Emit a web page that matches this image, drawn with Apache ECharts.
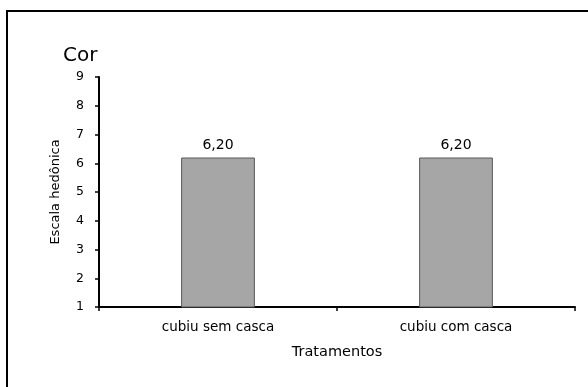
<!DOCTYPE html>
<html>
<head>
<meta charset="utf-8">
<script src="https://cdn.jsdelivr.net/npm/echarts@6/dist/echarts.min.js"></script>
<style>
  html, body { margin: 0; padding: 0; background: #fff; }
  #chart { width: 588px; height: 387px; }
</style>
</head>
<body>
<div id="chart"></div>
<script>
// Hedonic scale scores for colour, per treatment
const categories = ['cubiu sem casca', 'cubiu com casca'];
const scores = [6.20, 6.20];
const yTicks = [1, 2, 3, 4, 5, 6, 7, 8, 9];

const FONT = '"DejaVu Sans", "Noto Sans", sans-serif';
const chart = echarts.init(document.getElementById('chart'));

chart.setOption({
  animation: false,
  backgroundColor: '#ffffff',
  title: {
    text: 'Cor',
    left: 63,
    top: 46,
    padding: 0,
    textStyle: { fontFamily: FONT, fontSize: 20, fontWeight: 'normal', color: '#000' }
  },
  graphic: [{
    type: 'rect',
    shape: { x: 7, y: 11, width: 700, height: 500 },
    style: { fill: 'none', stroke: '#000', lineWidth: 2 },
    silent: true
  }],
  grid: { left: 99, right: 13, top: 77, bottom: 80 },
  xAxis: {
    type: 'category',
    data: categories,
    boundaryGap: true,
    name: 'Tratamentos',
    nameLocation: 'middle',
    nameGap: 38,
    nameTextStyle: { fontFamily: FONT, fontSize: 14.5, color: '#000' },
    axisLine: { lineStyle: { color: '#000', width: 2 } },
    axisTick: { show: true, length: 4, lineStyle: { color: '#000', width: 1.5 } },
    axisLabel: { fontFamily: FONT, fontSize: 13.5, color: '#000', margin: 13 },
    splitLine: { show: false }
  },
  yAxis: {
    type: 'value',
    min: yTicks[0],
    max: yTicks[yTicks.length - 1],
    interval: 1,
    name: 'Escala hedônica',
    nameLocation: 'middle',
    nameRotate: 90,
    nameGap: 37,
    nameTextStyle: { fontFamily: FONT, fontSize: 13, color: '#000' },
    axisLine: { show: true, lineStyle: { color: '#000', width: 2 } },
    axisTick: { show: true, length: 4, lineStyle: { color: '#000', width: 1.5 } },
    axisLabel: { fontFamily: FONT, fontSize: 12.5, color: '#000', margin: 15 },
    splitLine: { show: false }
  },
  series: [{
    type: 'bar',
    data: scores,
    barWidth: '31%',
    itemStyle: { color: '#a6a6a6', borderColor: '#595959', borderWidth: 1 },
    label: {
      show: true,
      position: 'top',
      distance: 5,
      fontFamily: FONT,
      fontSize: 14,
      color: '#000',
      formatter: p => p.value.toFixed(2).replace('.', ',')
    }
  }]
});
</script>
</body>
</html>
